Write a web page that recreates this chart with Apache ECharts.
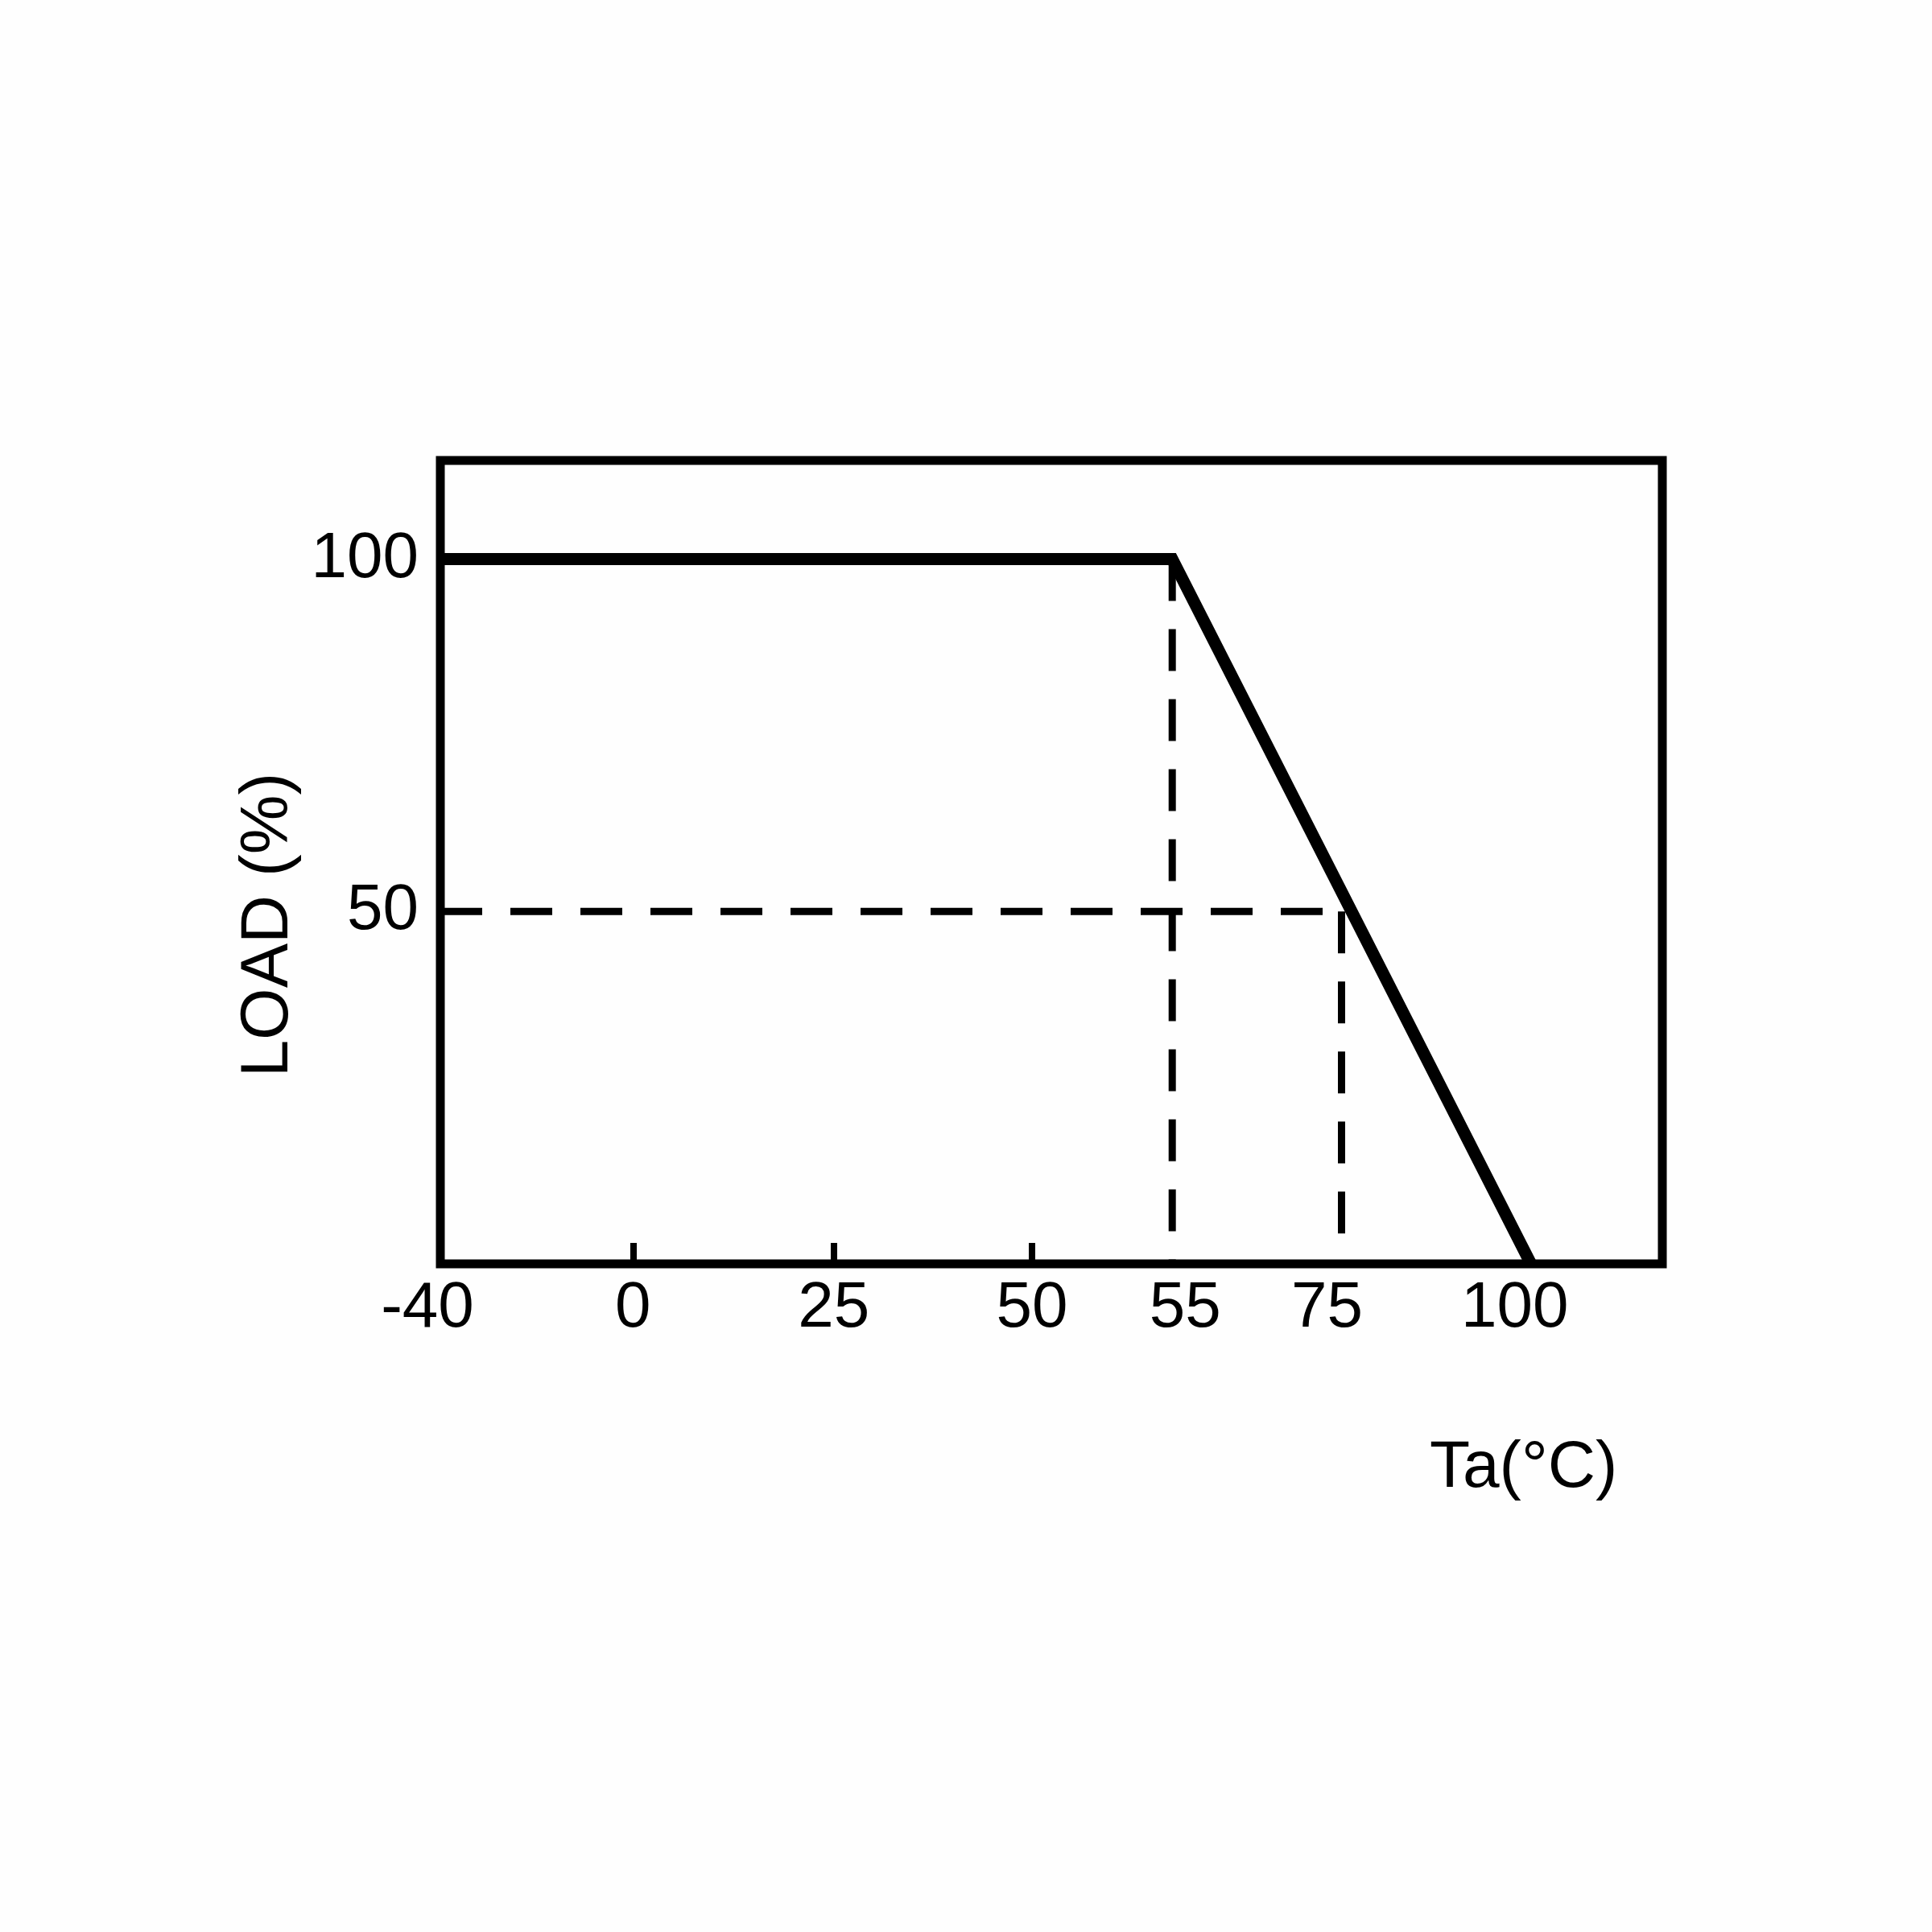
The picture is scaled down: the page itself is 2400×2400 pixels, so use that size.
<!DOCTYPE html>
<html>
<head>
<meta charset="utf-8">
<script src="https://cdn.jsdelivr.net/npm/echarts@6/dist/echarts.min.js"></script>
<style>
  html, body { margin: 0; padding: 0; background: #fff; }
  #chart { width: 2400px; height: 2400px; }
</style>
</head>
<body>
<div id="chart"></div>
<script>
// derating curve data
const tempTicks = [-40, 0, 25, 50, 55, 75, 100];
const innerTicks = [0, 25, 50];
const loadTicks = [50, 100];
const curveTemp = [-40, 55, 100];
const curveLoad = [100, 100, 0];
// dashed guide lines: [temp, load] pairs
const guide50 = [[-40, 50], [75, 50]];
const guide55 = [[55, 100], [55, 0]];
const guide75 = [[75, 50], [75, 0]];

// the x axis is drawn schematically (not to scale), so map temperature
// through piecewise breakpoints of the printed axis
const scaleTemp = [-40, 0, 25, 50, 55, 75, 100, 117];
const scaleUnit = [0, 239, 488, 734, 908, 1118, 1353, 1516];

// small nudges of some tick labels, as printed (px, + = right)
const labelNudge = { '-40': -16, '55': 16, '75': -18, '100': -20 };

function warp(t) {
  for (let i = 0; i < scaleTemp.length - 1; i++) {
    if (t <= scaleTemp[i + 1]) {
      const f = (t - scaleTemp[i]) / (scaleTemp[i + 1] - scaleTemp[i]);
      return scaleUnit[i] + f * (scaleUnit[i + 1] - scaleUnit[i]);
    }
  }
  return scaleUnit[scaleUnit.length - 1];
}
function unwarp(v) {
  const t = tempTicks.find(t => Math.abs(warp(t) - v) < 0.5);
  return t === undefined ? '' : String(t);
}
const toPts = pairs => pairs.map(p => [warp(p[0]), p[1]]);

const FONT = "'Liberation Sans', Arial, sans-serif";
const chart = echarts.init(document.getElementById('chart'));

// rich styles to shift individual x labels sideways
const rich = {};
Object.keys(labelNudge).forEach((k, i) => {
  const d = labelNudge[k];
  rich['n' + i] = {
    color: '#000', fontFamily: FONT, fontSize: 80,
    padding: d > 0 ? [0, 0, 0, 2 * d] : [0, -2 * d, 0, 0]
  };
});
function xLabel(v) {
  const s = unwarp(v);
  const i = Object.keys(labelNudge).indexOf(s);
  return i < 0 ? s : '{n' + i + '|' + s + '}';
}

const dashed = {
  type: 'line',
  symbol: 'none',
  silent: true,
  lineStyle: { color: '#000', width: 9, type: [52, 35], cap: 'butt' }
};

const option = {
  backgroundColor: '#fefefe',
  animation: false,
  grid: {
    left: 547, right: 335, top: 572, bottom: 830,
    show: true,
    borderColor: '#000',
    borderWidth: 11,
    backgroundColor: 'transparent'
  },
  xAxis: {
    type: 'value',
    min: 0,
    max: scaleUnit[scaleUnit.length - 1],
    name: 'Ta(°C)',
    nameLocation: 'middle',
    nameGap: 213,
    nameTextStyle: {
      color: '#000', fontFamily: FONT, fontSize: 82,
      align: 'left', padding: [0, 0, 0, 470]
    },
    axisLine: { show: false },
    splitLine: { show: false },
    axisTick: {
      show: true,
      inside: true,
      length: 26,
      customValues: innerTicks.map(warp),
      lineStyle: { color: '#000', width: 8 }
    },
    axisLabel: {
      customValues: tempTicks.map(warp),
      formatter: xLabel,
      rich: rich,
      color: '#000',
      fontFamily: FONT,
      fontSize: 80,
      margin: 16
    }
  },
  yAxis: {
    type: 'value',
    min: 0,
    max: 114,
    name: 'LOAD (%)',
    nameLocation: 'middle',
    nameGap: 168,
    nameRotate: 90,
    nameTextStyle: {
      color: '#000', fontFamily: FONT, fontSize: 83,
      padding: [0, 156, 0, 0]
    },
    axisLine: { show: false },
    splitLine: { show: false },
    axisTick: { show: false },
    axisLabel: {
      customValues: loadTicks,
      color: '#000',
      fontFamily: FONT,
      fontSize: 80,
      margin: 27
    }
  },
  series: [
    Object.assign({}, dashed, { data: toPts(guide50) }),
    Object.assign({}, dashed, { data: toPts(guide55) }),
    Object.assign({}, dashed, { data: toPts(guide75) }),
    {
      type: 'line',
      symbol: 'none',
      silent: true,
      data: curveTemp.map((t, i) => [warp(t), curveLoad[i]]),
      lineStyle: { color: '#000', width: 15, join: 'miter', cap: 'butt' }
    }
  ]
};
chart.setOption(option);
</script>
</body>
</html>
